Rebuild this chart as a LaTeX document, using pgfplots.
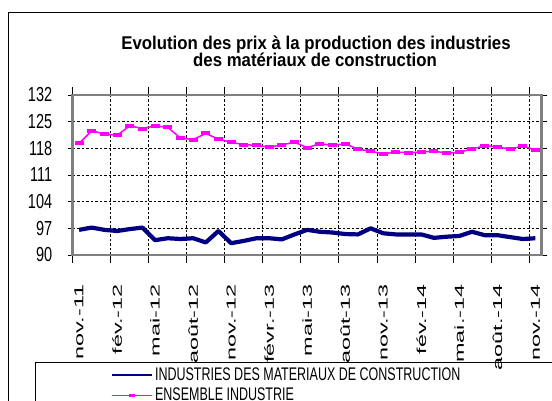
\documentclass[border=0pt]{standalone}
\usepackage{fontspec}
\setmainfont{Liberation Sans}
\usepackage{graphicx}
\usepackage{pgfplots}
\pgfplotsset{compat=1.18}

\definecolor{navy}{RGB}{0,0,128}
\definecolor{mag}{RGB}{255,0,255}
\definecolor{framegray}{RGB}{128,128,128}

% the reference is stretched vertically, so the text is too
\newcommand\xl[1]{\scalebox{1.8}[1]{#1}}
\newcommand\yl[1]{\scalebox{1}[1.4]{#1}}
\newcommand\legtxt[1]{\scalebox{1}[1.46]{#1}}

\begin{document}
\begin{tikzpicture}[x=1pt,y=1pt]
\useasboundingbox (0,0) rectangle (552,401);
% chart frame and legend frame (cut by the image edges)
\draw[black, line width=0.8pt] (8.5,0) -- (8.5,389) -- (552,389);
\draw[black, line width=0.8pt] (35,0) -- (35,38.5) -- (552,38.5);

\node[anchor=base, font=\fontsize{16.8}{18}\selectfont\bfseries] at (316,351.5)
  {\scalebox{1}[1.1]{Evolution des prix à la production des industries}};
\node[anchor=base, font=\fontsize{16.8}{18}\selectfont\bfseries] at (315,334)
  {\scalebox{1}[1.1]{des matériaux de construction}};

\begin{axis}[
    at={(72.7pt,146pt)}, anchor=south west,
    scale only axis, width=469pt, height=160pt,
    xmin=-0.5, xmax=36.5,
    ymin=90, ymax=132,
    ytick={90,97,104,111,118,125,132},
    yticklabels={\yl{90},\yl{97},\yl{104},\yl{111},\yl{118},\yl{125},\yl{132}},
    xtick={0,3,...,36},
    xticklabels={\xl{nov.-11},\xl{fév.-12},\xl{mai-12},\xl{août-12},\xl{nov.-12},\xl{févr.-13},\xl{mai-13},\xl{août-13},\xl{nov.-13},\xl{fév.-14},\xl{mai.-14},\xl{août.-14},\xl{nov.-14}},
    minor xtick={-0.5,2.5,...,36.5},
    major x tick style={draw=none},
    xmajorgrids=false, xminorgrids=true, ymajorgrids=true,
    major grid style={black, dash pattern=on 2.5pt off 2pt, line width=0.8pt},
    minor grid style={black, dash pattern=on 2.5pt off 2pt, line width=0.8pt},
    tick align=outside,
    major tick length=5pt, minor tick length=8pt,
    tick style={black, line width=0.8pt},
    axis line style={draw=framegray, line width=2.5pt},
    x tick label style={font=\fontsize{13}{14}\selectfont, rotate=90, anchor=east},
    y tick label style={font=\fontsize{14.5}{15}\selectfont, xshift=-12pt},
    xticklabel shift=21pt,
    legend style={at={(axis description cs:0.075,-0.68)}, anchor=north west,
      draw=none, fill=none, font=\fontsize{12.5}{14}\selectfont,
      cells={anchor=west}, row sep=2pt,
      /tikz/every even column/.append style={column sep=2pt}},
  ]
\addplot[navy, line width=4.2pt, line join=round,
  legend image code/.code={\draw[navy, line width=2pt] (0pt,0pt) -- (40pt,0pt);}]
  table {
0 96.6
1 97.2
2 96.6
3 96.3
4 96.8
5 97.2
6 93.9
7 94.4
8 94.2
9 94.4
10 93.3
11 96.3
12 93.1
13 93.7
14 94.4
15 94.4
16 94.1
17 95.4
18 96.6
19 96.1
20 95.9
21 95.5
22 95.4
23 97.0
24 95.7
25 95.4
26 95.4
27 95.4
28 94.5
29 94.8
30 95.0
31 96.1
32 95.2
33 95.2
34 94.7
35 94.2
36 94.4
};
\addlegendentry{\legtxt{INDUSTRIES DES MATERIAUX  DE CONSTRUCTION}}
\addplot[mag, line width=1.5pt, mark=-, mark size=4.5pt,
  mark options={line width=4pt, solid},
  legend image code/.code={\draw[mag, line width=1pt] (0pt,0pt) -- (40pt,0pt);
    \draw[mag, line width=2.5pt] (17pt,0pt) -- (23pt,0pt);}]
  table {
0 119.3
1 122.6
2 121.8
3 121.4
4 123.9
5 123.2
6 123.9
7 123.5
8 120.7
9 120.3
10 121.9
11 120.4
12 119.6
13 118.95
14 118.8
15 118.3
16 118.9
17 119.6
18 118.2
19 119.2
20 118.8
21 119.2
22 117.8
23 117.2
24 116.6
25 117.0
26 116.9
27 117.0
28 117.3
29 116.7
30 117.0
31 117.8
32 118.7
33 118.4
34 117.8
35 118.6
36 117.6
};
\addlegendentry{\legtxt{ENSEMBLE INDUSTRIE}}
\end{axis}
\end{tikzpicture}
\end{document}
